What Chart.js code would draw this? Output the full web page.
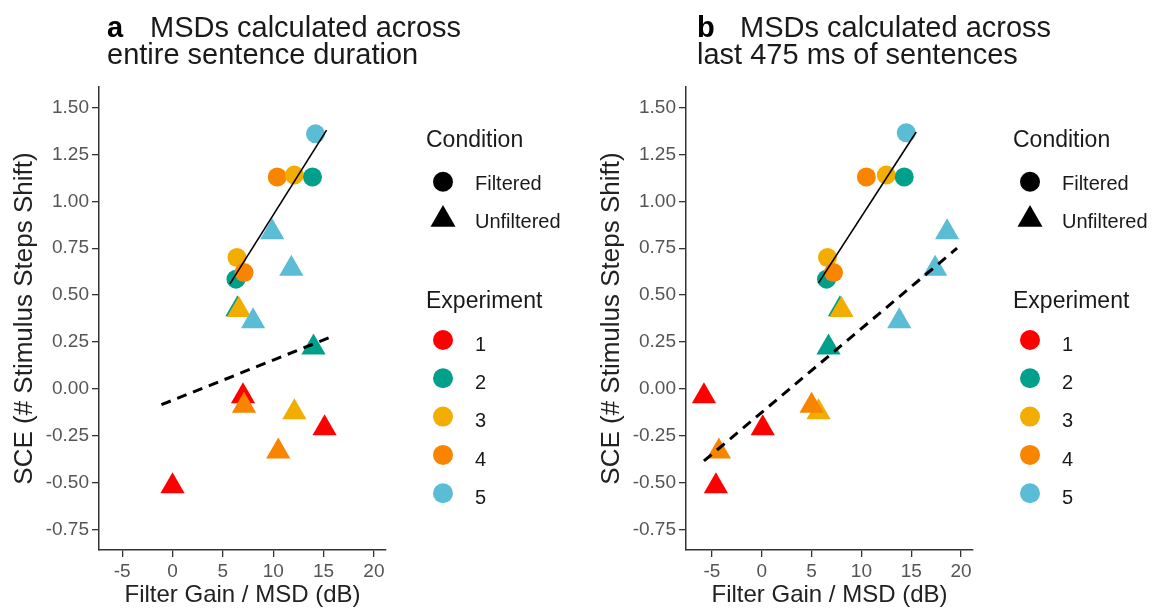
<!DOCTYPE html>
<html>
<head>
<meta charset="utf-8">
<title>SCE vs Filter Gain / MSD</title>
<script src="https://cdn.jsdelivr.net/npm/chart.js@4.4.1/dist/chart.umd.min.js"></script>
<style>
  body { margin: 0; background: #fff; font-family: "Liberation Sans", Arial, sans-serif; }
  #page { position: relative; width: 1153px; height: 613px; overflow: hidden; }
  #page canvas { position: absolute; top: 0; }
  #marks { position: absolute; left: 0; top: 0; }
  .txt { position: absolute; white-space: nowrap; }
</style>
</head>
<body>
<div id="page">
  <canvas id="chartA" width="400" height="613" style="left:0px"></canvas>
  <canvas id="chartB" width="400" height="613" style="left:587px"></canvas>
  <svg id="marks" width="1153" height="613"></svg>
</div>
<script>
// ---- data ----
const experiments = ['1', '2', '3', '4', '5'];
const expColors = ['#FF0000', '#00A08A', '#F2AD00', '#F98400', '#5BBCD6'];
const conditions = ['Filtered', 'Unfiltered'];

const xTicks = [-5, 0, 5, 10, 15, 20];
const yTicks = [-0.75, -0.5, -0.25, 0, 0.25, 0.5, 0.75, 1, 1.25, 1.5];

// panel a: MSDs across entire sentence duration
const aFiltExp = [2, 3, 4, 4, 3, 2, 5];
const aFiltX = [6.3, 6.4, 7.1, 10.4, 12.1, 13.9, 14.2];
const aFiltY = [0.585, 0.70, 0.62, 1.13, 1.14, 1.13, 1.36];
const aUnfExp = [2, 3, 5, 5, 5, 2, 1, 3, 4, 1, 4, 1];
const aUnfX = [6.45, 6.6, 9.9, 11.8, 8.0, 14.0, 7.0, 12.1, 7.1, 15.1, 10.5, 0.0];
const aUnfY = [0.425, 0.42, 0.835, 0.64, 0.36, 0.22, -0.04, -0.125, -0.09, -0.21, -0.335, -0.52];
const aFitFiltX = [5.7, 15.3];
const aFitFiltY = [0.56, 1.38];
const aFitUnfX = [-1.1, 15.9];
const aFitUnfY = [-0.085, 0.28];

// panel b: MSDs across last 475 ms of sentences
const bFiltExp = [2, 3, 4, 4, 3, 2, 5];
const bFiltX = [6.5, 6.6, 7.2, 10.5, 12.5, 14.3, 14.5];
const bFiltY = [0.585, 0.70, 0.62, 1.13, 1.14, 1.13, 1.366];
const bUnfExp = [2, 3, 5, 5, 5, 2, 1, 3, 4, 1, 4, 1];
const bUnfX = [7.85, 8.0, 18.6, 17.4, 13.8, 6.7, -5.8, 5.7, 5.0, 0.1, -4.3, -4.6];
const bUnfY = [0.425, 0.42, 0.835, 0.64, 0.36, 0.22, -0.04, -0.125, -0.09, -0.21, -0.335, -0.52];
const bFitFiltX = [5.7, 15.5];
const bFitFiltY = [0.565, 1.37];
const bFitUnfX = [-5.8, 19.6];
const bFitUnfY = [-0.385, 0.75];

Chart.defaults.font.family = '"Liberation Sans", Arial, sans-serif';

const toPoints = (xs, ys) => xs.map((x, i) => ({ x: x, y: ys[i] }));

function drawPanel(canvasId, p) {
    const ctx = document.getElementById(canvasId).getContext('2d');
    new Chart(ctx, {
        type: 'scatter',
        data: {
            datasets: [
                {
                    data: toPoints(p.fitFiltX, p.fitFiltY),
                    showLine: true,
                    borderColor: '#000',
                    borderWidth: 1.6,
                    pointRadius: 0
                },
                {
                    data: toPoints(p.fitUnfX, p.fitUnfY),
                    showLine: true,
                    borderColor: '#000',
                    borderWidth: 3,
                    borderDash: [10, 7],
                    pointRadius: 0
                },
                {
                    data: toPoints(p.filtX, p.filtY),
                    pointStyle: 'circle',
                    pointRadius: 9.5,
                    pointBorderWidth: 0,
                    pointBackgroundColor: p.filtExp.map(e => expColors[e - 1])
                },
                {
                    data: toPoints(p.unfX, p.unfY),
                    pointStyle: 'triangle',
                    pointRadius: 14,
                    pointBorderWidth: 0,
                    pointBackgroundColor: p.unfExp.map(e => expColors[e - 1])
                }
            ]
        },
        options: {
            responsive: false,
            animation: false,
            events: [],
            layout: { padding: { top: 87, right: p.padRight, left: 0, bottom: 0 } },
            plugins: { legend: { display: false }, tooltip: { enabled: false } },
            scales: {
                x: {
                    type: 'linear',
                    min: p.xMin,
                    max: p.xMax,
                    afterBuildTicks: s => { s.ticks = xTicks.map(v => ({ value: v })); },
                    afterFit: s => { s.height = 63; },
                    ticks: { color: '#555', font: { size: 19 }, padding: 3, callback: v => String(v) },
                    grid: { drawOnChartArea: false, tickLength: 7, color: '#333', lineWidth: 1.3 },
                    border: { color: '#333', width: 1.5 },
                    title: {
                        display: true,
                        text: 'Filter Gain / MSD (dB)',
                        color: '#222',
                        font: { size: 24 },
                        padding: { top: 0, bottom: 3 }
                    }
                },
                y: {
                    type: 'linear',
                    min: -0.86,
                    max: 1.61,
                    afterBuildTicks: s => { s.ticks = yTicks.map(v => ({ value: v })); },
                    afterFit: s => { s.width = 99; },
                    ticks: { color: '#555', font: { size: 19 }, padding: 3, callback: v => v.toFixed(2) },
                    grid: { drawOnChartArea: false, tickLength: 7, color: '#333', lineWidth: 1.3 },
                    border: { color: '#333', width: 1.5 },
                    title: {
                        display: true,
                        text: 'SCE (# Stimulus Steps Shift)',
                        color: '#222',
                        font: { size: 26 },
                        padding: { top: 9, bottom: 0 }
                    }
                }
            }
        }
    });
}

drawPanel('chartA', {
    filtExp: aFiltExp, filtX: aFiltX, filtY: aFiltY,
    unfExp: aUnfExp, unfX: aUnfX, unfY: aUnfY,
    fitFiltX: aFitFiltX, fitFiltY: aFitFiltY, fitUnfX: aFitUnfX, fitUnfY: aFitUnfY,
    xMin: -7.3, xMax: 21.2, padRight: 12
});
drawPanel('chartB', {
    filtExp: bFiltExp, filtX: bFiltX, filtY: bFiltY,
    unfExp: bUnfExp, unfX: bUnfX, unfY: bUnfY,
    fitFiltX: bFitFiltX, fitFiltY: bFitFiltY, fitUnfX: bFitUnfX, fitUnfY: bFitUnfY,
    xMin: -7.6, xMax: 21.2, padRight: 11
});

// ---- titles and legends (html text + svg keys) ----
const page = document.getElementById('page');
const svg = document.getElementById('marks');
const NS = 'http://www.w3.org/2000/svg';

function placeText(text, left, baseline, size, color, bold) {
    const d = document.createElement('div');
    d.className = 'txt';
    d.textContent = text;
    d.style.left = left + 'px';
    d.style.top = (baseline - 0.8465 * size) + 'px';
    d.style.fontSize = size + 'px';
    d.style.lineHeight = size + 'px';
    d.style.color = color;
    if (bold) d.style.fontWeight = 'bold';
    page.appendChild(d);
}

function circleKey(cx, cy, r, fill) {
    const c = document.createElementNS(NS, 'circle');
    c.setAttribute('cx', cx); c.setAttribute('cy', cy); c.setAttribute('r', r);
    c.setAttribute('fill', fill);
    svg.appendChild(c);
}

function triangleKey(cx, cy, w, h, fill) {
    const t = document.createElementNS(NS, 'polygon');
    const top = cy - h * 0.6, bottom = cy + h * 0.4;
    t.setAttribute('points', `${cx},${top} ${cx - w / 2},${bottom} ${cx + w / 2},${bottom}`);
    t.setAttribute('fill', fill);
    svg.appendChild(t);
}

function drawTitle(letter, left, lines) {
    placeText(letter, left, 38, 29, '#000', true);
    placeText(lines[0], left + 43, 38, 29, '#1a1a1a', false);
    placeText(lines[1], left, 65, 29, '#1a1a1a', false);
}

function drawLegend(off) {
    placeText('Condition', 426 + off, 147, 23, '#1a1a1a');
    circleKey(443 + off, 181.7, 10, '#000');
    placeText(conditions[0], 475 + off, 190, 20, '#1a1a1a');
    triangleKey(443 + off, 218, 25, 21.7, '#000');
    placeText(conditions[1], 475 + off, 228.3, 20, '#1a1a1a');

    placeText('Experiment', 426 + off, 308.3, 23, '#1a1a1a');
    experiments.forEach((e, i) => {
        circleKey(443 + off, 340 + i * 38.3, 10, expColors[i]);
        placeText(e, 475 + off, 350.7 + i * 38.3, 20, '#1a1a1a');
    });
}

drawTitle('a', 107, ['MSDs calculated across', 'entire sentence duration']);
drawTitle('b', 697, ['MSDs calculated across', 'last 475 ms of sentences']);
drawLegend(0);
drawLegend(587);
</script>
</body>
</html>
